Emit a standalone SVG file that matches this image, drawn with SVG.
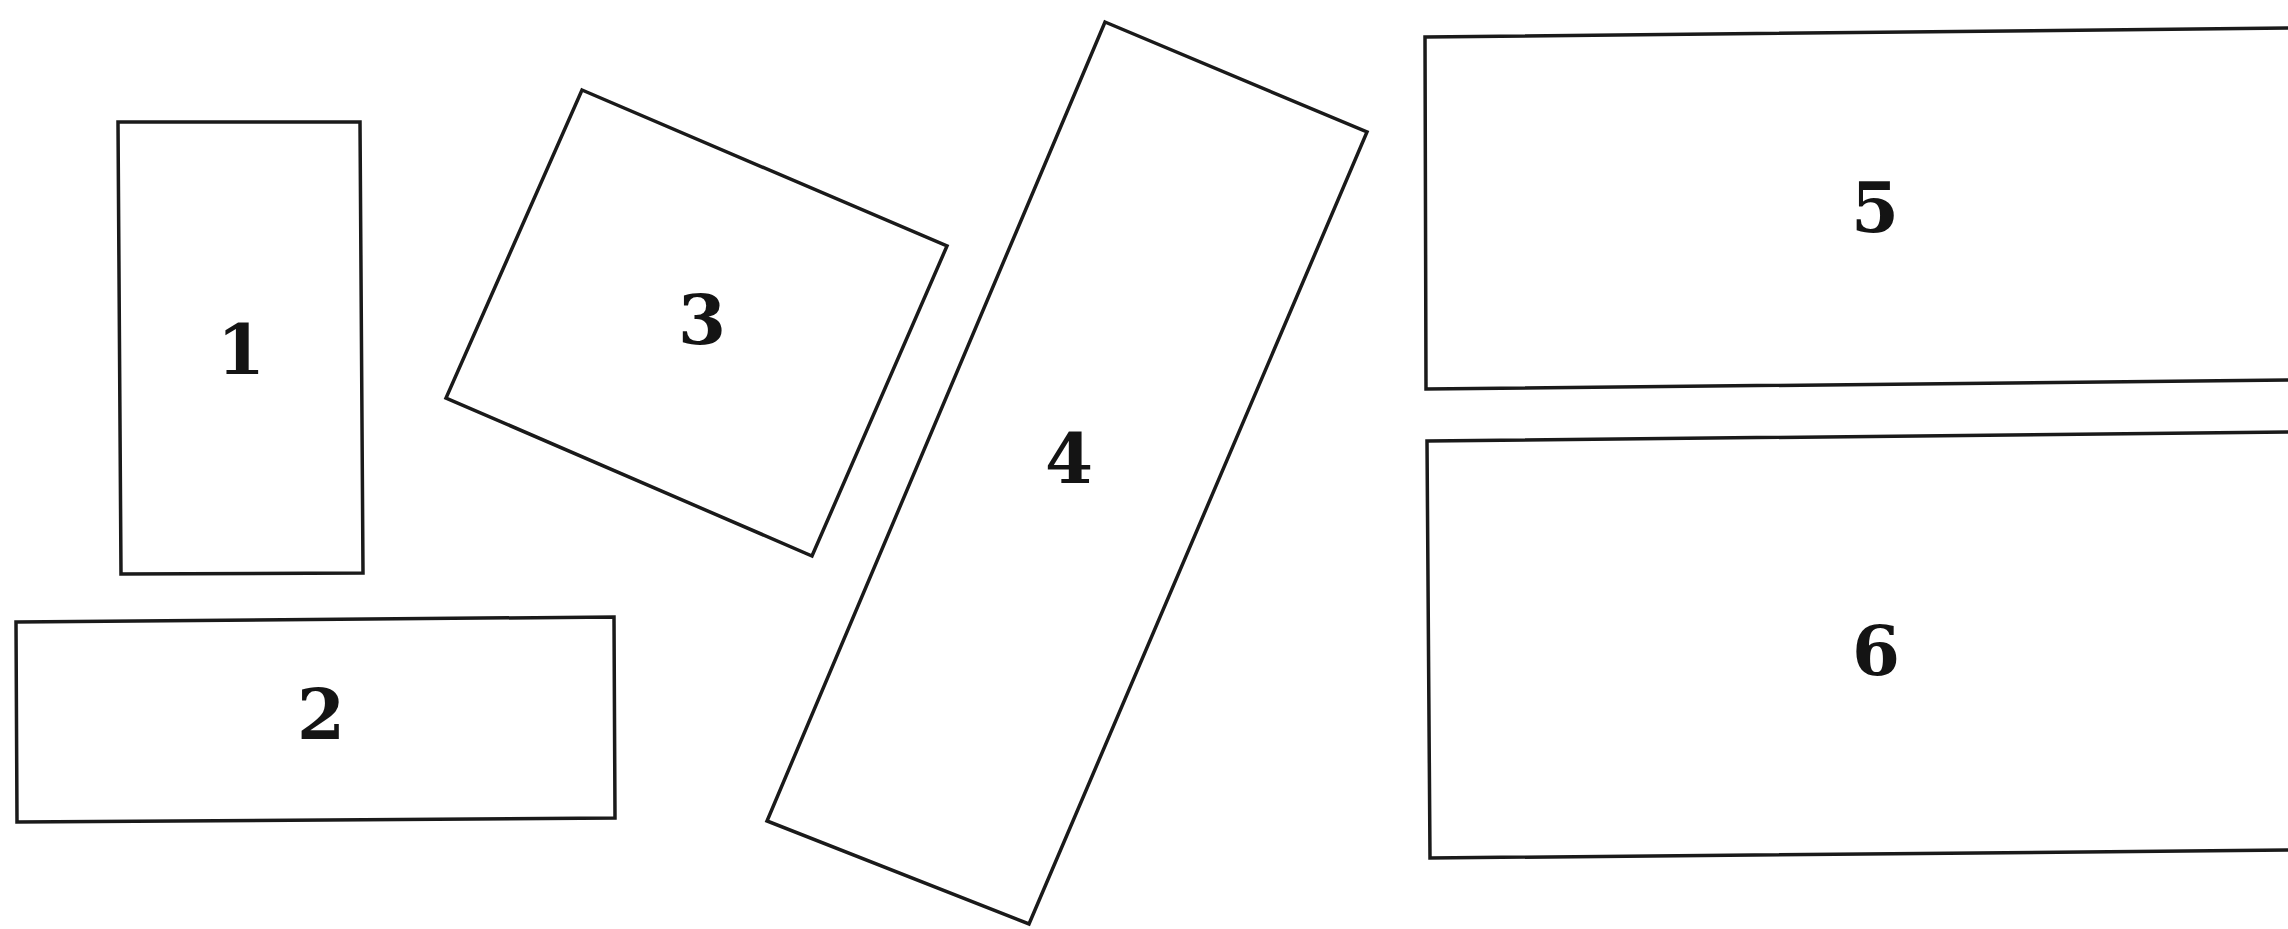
<svg xmlns="http://www.w3.org/2000/svg" width="2288" height="929" viewBox="0 0 2288 929">
<style>
.box{fill:none;stroke:#1a1a1a;stroke-width:3.5;stroke-linejoin:miter}
.lbl{font-family:"DejaVu Serif","Liberation Serif",serif;font-weight:bold;font-size:69px;fill:#141414;text-anchor:middle}
</style>
<rect width="2288" height="929" fill="#ffffff"/>
<g id="connectors"></g>
<g id="node1"><polygon class="box" points="118,122 360,122 363,573 121,574"/><text class="lbl" x="241" y="374">1</text></g>
<g id="node2"><polygon class="box" points="16,622 614,617 615,818 17,822"/><text class="lbl" x="321" y="739">2</text></g>
<g id="node3"><polygon class="box" points="582,90 947,246 812,556 446,398"/><text class="lbl" x="702" y="344">3</text></g>
<g id="node4"><polygon class="box" points="1105,22 1367,132 1029,924 767,821"/><text class="lbl" x="1069" y="483">4</text></g>
<g id="node5"><polygon class="box" points="1425,37 2300,28 2300,380 1426,389"/><text class="lbl" x="1875" y="232">5</text></g>
<g id="node6"><polygon class="box" points="1427,441 2300,432 2300,850 1430,858"/><text class="lbl" x="1876" y="675">6</text></g>
</svg>
